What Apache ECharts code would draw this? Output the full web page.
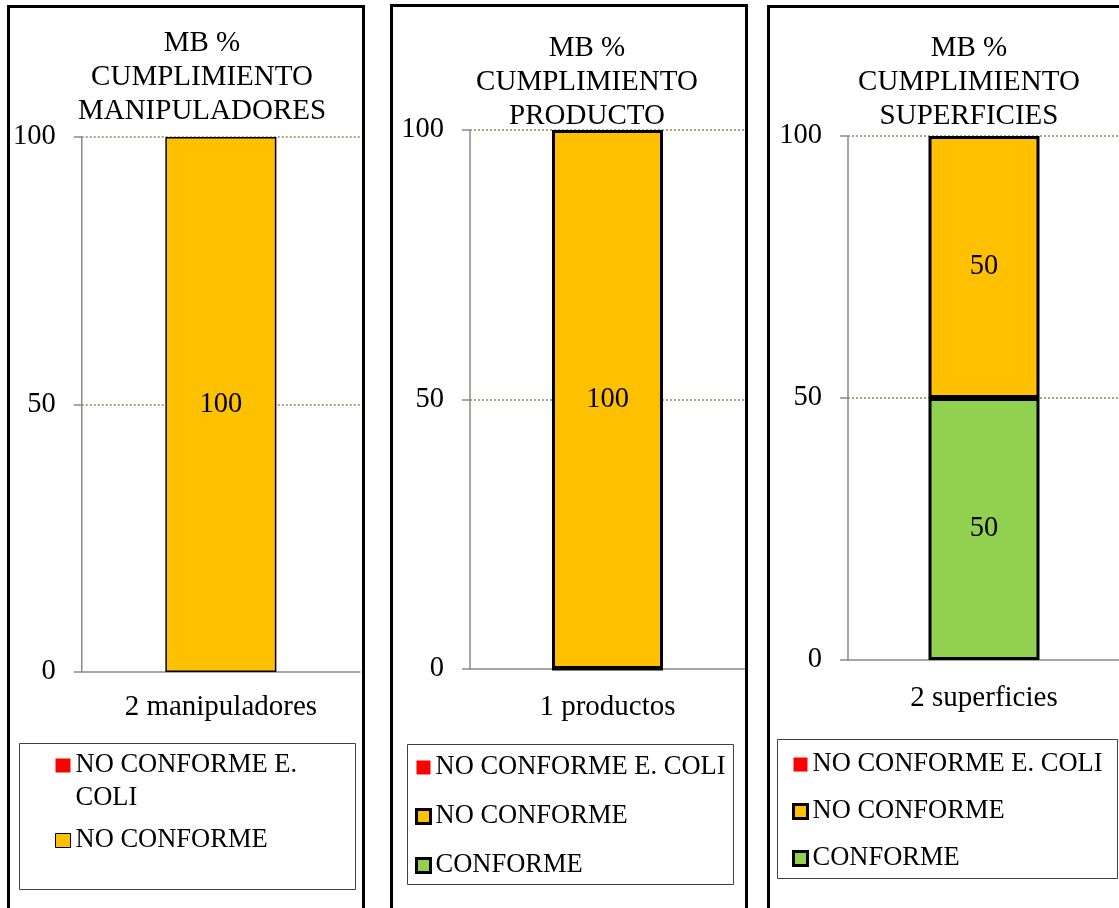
<!DOCTYPE html>
<html>
<head>
<meta charset="utf-8">
<script src="https://cdn.jsdelivr.net/npm/echarts@6/dist/echarts.min.js"></script>
<style>
  html, body { margin: 0; padding: 0; background: #fff; overflow: hidden; width: 1119px; height: 908px; }
  .panel { position: absolute; border: 3px solid #000; width: 352px; height: 910px; background: #fff; }
</style>
</head>
<body>
<div id="p1" class="panel" style="left:7px;top:5px"></div>
<div id="p2" class="panel" style="left:390px;top:4px"></div>
<div id="p3" class="panel" style="left:767px;top:5px"></div>
<script>
// Series names and colours shared by the three charts
const NAME_ECOLI = 'NO CONFORME E. COLI';
const NAME_NO = 'NO CONFORME';
const NAME_OK = 'CONFORME';
const COLOR_ECOLI = '#FF0000';
const COLOR_NO = '#FFC000';
const COLOR_OK = '#92D050';

// Titles
const titleManip = 'MB %\nCUMPLIMIENTO\nMANIPULADORES';
const titleProd = 'MB %\nCUMPLIMIENTO\nPRODUCTO';
const titleSup = 'MB %\nCUMPLIMIENTO\nSUPERFICIES';

// Manipuladores
const manipCategories = ['2 manipuladores'];
const manipEColi = [0];
const manipNoConforme = [100];

// Producto
const prodCategories = ['1 productos'];
const prodEColi = [0];
const prodNoConforme = [100];
const prodConforme = [0];

// Superficies
const supCategories = ['2 superficies'];
const supEColi = [0];
const supNoConforme = [50];
const supConforme = [50];

// Value axis (percent)
const yMin = 0;
const yMax = 100;
const yStep = 50;

const FONT = "'Liberation Serif', 'Times New Roman', serif";
const AXIS_GREY = '#8a8a8a';
const GRID_OLIVE = '#948A54';

function barSeries(name, color, values, borderWidth) {
  return {
    name: name,
    type: 'bar',
    stack: 'total',
    data: values,
    barWidth: 111,
    itemStyle: {
      color: color,
      borderColor: '#000',
      borderWidth: borderWidth
    },
    label: {
      show: true,
      position: 'inside',
      color: '#000',
      fontFamily: FONT,
      fontSize: 28.5,
      formatter: p => (p.value > 0 ? String(p.value) : '')
    }
  };
}

function buildOption(cfg) {
  return {
    animation: false,
    backgroundColor: '#fff',
    title: {
      text: cfg.title,
      left: cfg.titleX,
      top: cfg.titleTop,
      textAlign: 'center',
      padding: 0,
      textStyle: {
        fontFamily: FONT,
        fontWeight: 'normal',
        fontSize: 29,
        lineHeight: 34,
        color: '#000'
      }
    },
    grid: {
      left: cfg.grid.left,
      top: cfg.grid.top,
      right: cfg.grid.right,
      height: cfg.grid.height,
      containLabel: false
    },
    xAxis: {
      type: 'category',
      data: cfg.categories,
      axisLine: { lineStyle: { color: AXIS_GREY, width: 1.5 } },
      axisTick: { length: 8, lineStyle: { color: AXIS_GREY, width: 1.5 } },
      axisLabel: { color: '#000', fontFamily: FONT, fontSize: 29, margin: cfg.xLabelMargin }
    },
    yAxis: {
      type: 'value',
      min: yMin,
      max: yMax,
      interval: yStep,
      axisLine: { show: true, lineStyle: { color: AXIS_GREY, width: 1.5 } },
      axisTick: { show: true, length: 8, lineStyle: { color: AXIS_GREY, width: 1.5 } },
      axisLabel: { color: '#000', fontFamily: FONT, fontSize: 28.5, margin: 26 },
      splitLine: {
        show: true,
        showMinLine: false,
        lineStyle: { color: GRID_OLIVE, width: 1.5, type: [2, 2] }
      }
    },
    legend: {
      orient: 'vertical',
      left: cfg.legend.left,
      top: cfg.legend.top,
      padding: 0,
      itemGap: cfg.legend.gap,
      itemWidth: cfg.legend.iconW,
      itemHeight: 14,
      icon: 'rect',
      selectedMode: false,
      textStyle: {
        fontFamily: FONT,
        fontSize: 26.5,
        color: '#000',
        lineHeight: cfg.legend.lineHeight
      },
      formatter: cfg.legend.formatter,
      data: cfg.legend.items
    },
    graphic: [{
      type: 'rect',
      z: -1,
      shape: cfg.legendBox,
      style: { fill: 'none', stroke: '#404040', lineWidth: 1 }
    }],
    series: cfg.series
  };
}

const panels = [
  {
    el: 'p1',
    title: titleManip,
    titleX: 192,
    titleTop: 18,
    categories: manipCategories,
    grid: { left: 71, top: 129, right: 2, height: 535 },
    xLabelMargin: 21,
    legend: {
      left: 45, top: 708, gap: 9, iconW: 15, lineHeight: 33,
      formatter: n => (n === NAME_ECOLI ? '\nNO CONFORME E.\nCOLI' : n),
      items: [
        { name: NAME_ECOLI, itemStyle: { borderWidth: 0 } },
        { name: NAME_NO, itemStyle: { borderWidth: 1, borderColor: '#000' } }
      ]
    },
    legendBox: { x: 9.5, y: 735.5, width: 336, height: 146 },
    series: [
      barSeries(NAME_NO, COLOR_NO, manipNoConforme, 1.5),
      barSeries(NAME_ECOLI, COLOR_ECOLI, manipEColi, 0)
    ]
  },
  {
    el: 'p2',
    title: titleProd,
    titleX: 194,
    titleTop: 24,
    categories: prodCategories,
    grid: { left: 77, top: 123, right: 0, height: 539 },
    xLabelMargin: 24,
    legend: {
      left: 22, top: 747, gap: 22, iconW: 14, lineHeight: 26,
      formatter: n => n,
      items: [
        { name: NAME_ECOLI, itemStyle: { borderWidth: 0 } },
        { name: NAME_NO, itemStyle: { borderWidth: 3, borderColor: '#000' } },
        { name: NAME_OK, itemStyle: { borderWidth: 3, borderColor: '#000' } }
      ]
    },
    legendBox: { x: 14.5, y: 737.5, width: 326, height: 140 },
    series: [
      barSeries(NAME_OK, COLOR_OK, prodConforme, 3),
      barSeries(NAME_NO, COLOR_NO, prodNoConforme, 3),
      barSeries(NAME_ECOLI, COLOR_ECOLI, prodEColi, 0)
    ]
  },
  {
    el: 'p3',
    title: titleSup,
    titleX: 199,
    titleTop: 23,
    categories: supCategories,
    grid: { left: 78, top: 128, right: 2, height: 524 },
    xLabelMargin: 24,
    legend: {
      left: 22, top: 743, gap: 20, iconW: 14, lineHeight: 26,
      formatter: n => n,
      items: [
        { name: NAME_ECOLI, itemStyle: { borderWidth: 0 } },
        { name: NAME_NO, itemStyle: { borderWidth: 3, borderColor: '#000' } },
        { name: NAME_OK, itemStyle: { borderWidth: 3, borderColor: '#000' } }
      ]
    },
    legendBox: { x: 7.5, y: 731.5, width: 340, height: 139 },
    series: [
      barSeries(NAME_OK, COLOR_OK, supConforme, 3),
      barSeries(NAME_NO, COLOR_NO, supNoConforme, 3),
      barSeries(NAME_ECOLI, COLOR_ECOLI, supEColi, 0)
    ]
  }
];

panels.forEach(cfg => {
  const chart = echarts.init(document.getElementById(cfg.el), null, { renderer: 'canvas' });
  chart.setOption(buildOption(cfg));
});
</script>
</body>
</html>
